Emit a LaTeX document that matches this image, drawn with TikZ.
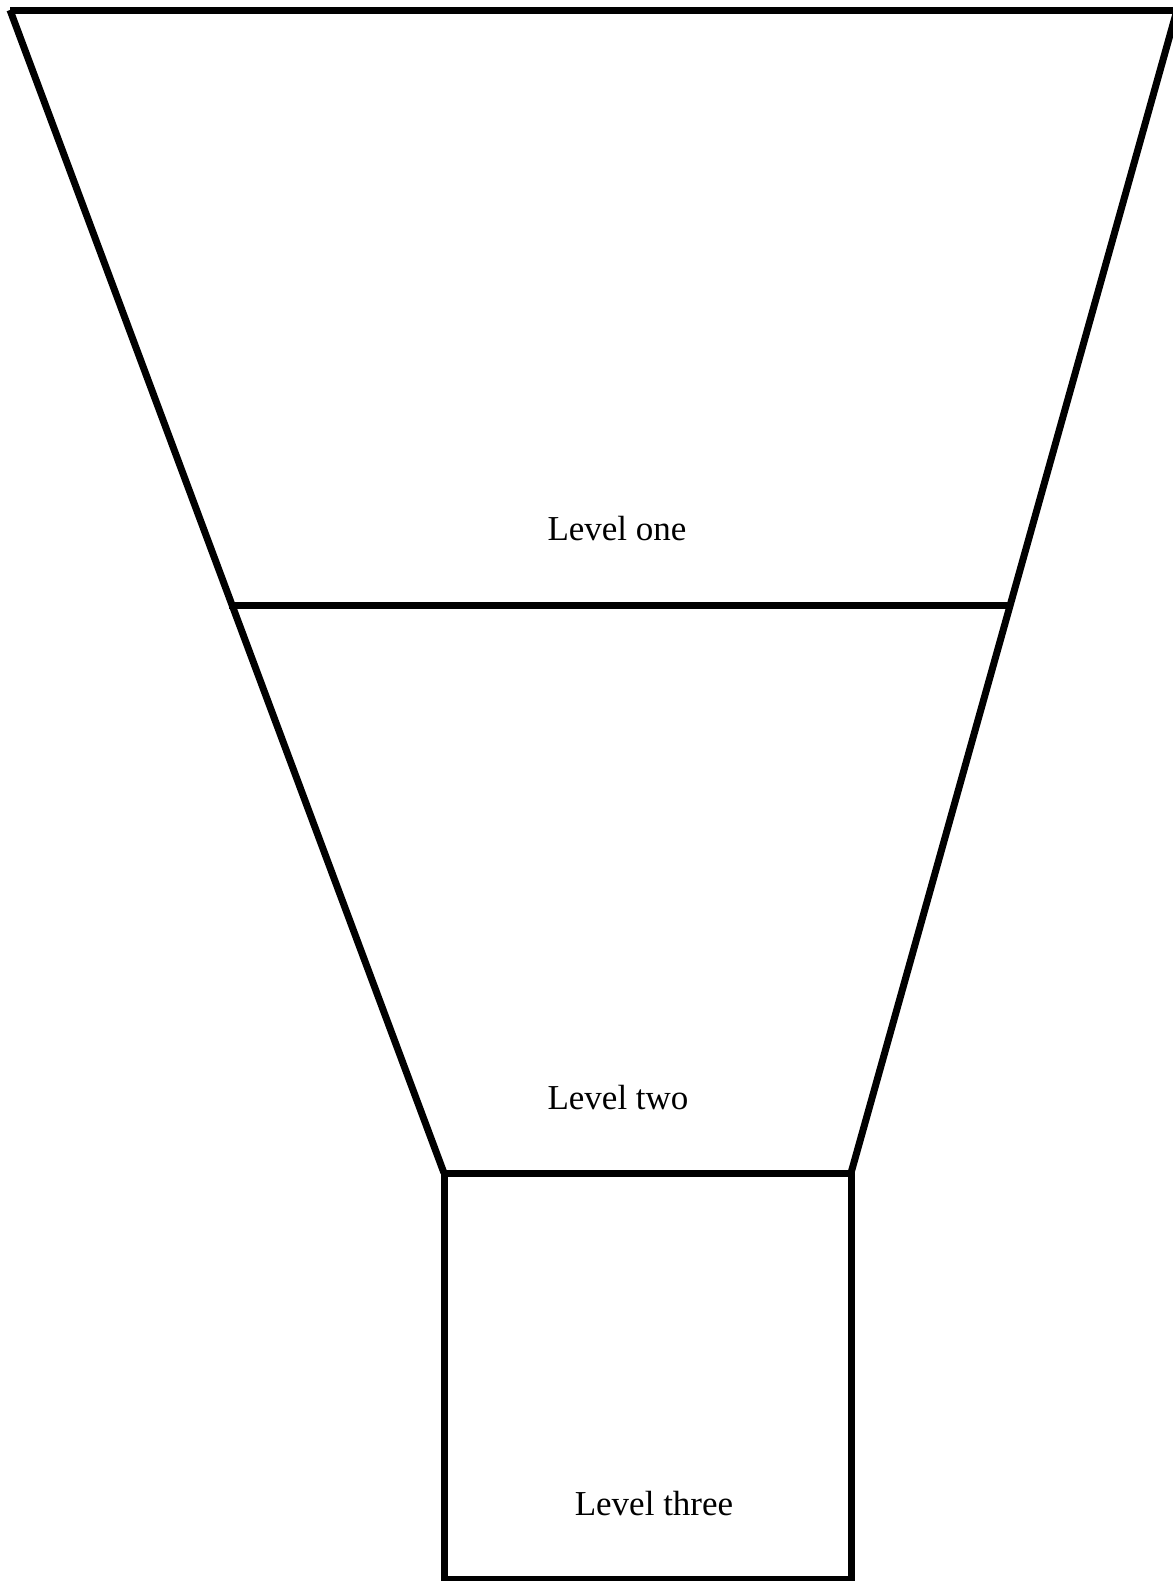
\documentclass[tikz,border=0pt]{standalone}
\usepackage{fontspec}
\setmainfont{Liberation Serif}
\usetikzlibrary{positioning}

\begin{document}
\begin{tikzpicture}[x=0.5pt,y=-0.5pt,font=\fontsize{17.5}{21}\selectfont,
    edge/.style={line width=3.5pt,black},
    lbl/.style={anchor=base,inner sep=0pt}]
        \useasboundingbox (0,0) rectangle (1173,1581);
        \coordinate (tl) at (10,10);   \coordinate (tr) at (1177,10);
        \coordinate (ml) at (229,605); \coordinate (mr) at (1008,605);
        \coordinate (bl) at (444,1173); \coordinate (br) at (851,1173);
        \coordinate (fl) at (444,1579); \coordinate (fr) at (851,1579);
        % funnel
        \draw[edge] (tl)--(tr);
        \draw[edge] (tl)--(bl); \draw[edge] (tr)--(br);
        \draw[edge] (ml)--(mr);
        \draw[edge] (bl)--(br)--(fr)--(fl)--cycle;
        \node[lbl] (lvlone) at (617,540) {Level one};
        \node[lbl] (lvltwo) at (618,1109) {Level two};
        \node[lbl] (lvlthree) at (654,1515) {Level three};
      \end{tikzpicture}
\end{document}
